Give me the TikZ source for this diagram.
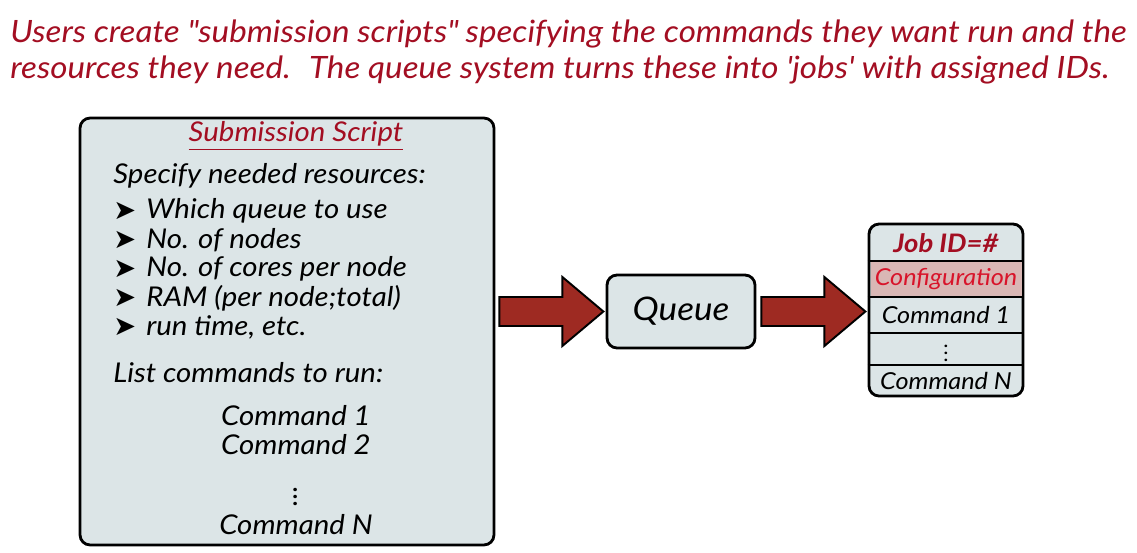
\documentclass[tikz,border=0pt]{standalone}
\usepackage{fontspec}
\setmainfont{Lato}[FakeStretch=1.08]
\newfontfamily\dingfont{DejaVu Sans}
\usetikzlibrary{calc,positioning}
\definecolor{titlered}{HTML}{A30E22}
\definecolor{confred}{HTML}{D8142A}
\definecolor{boxgrey}{HTML}{DCE5E7}
\definecolor{arrowred}{HTML}{9E2A22}
\definecolor{confpink}{HTML}{D9B7B5}
\newcommand{\itembullet}{{\dingfont\char"27A4}}
% block arrow whose tail sits just right of #1, heading right
\newcommand{\fatarrow}[1]{%
  \draw[fat] ($(#1)+(0,-14.5)$) -- ++(63,0) -- ++(0,-20) -- ++(41,34.5)
    -- ++(-41,34.5) -- ++(0,-20) -- ++(-63,0) -- cycle;}

\begin{document}
\begin{tikzpicture}[x=0.02cm, y=-0.02cm, line join=round,
    every node/.style={font=\itshape\fontsize{15.5}{17}\selectfont, inner sep=1pt},
    title/.style={anchor=west, align=left, inner sep=0pt, text=titlered,
      font=\itshape\fontsize{17.5}{20.5}\selectfont},
    panel/.style={draw, line width=1.6pt, rounded corners=0.2cm, fill=boxgrey, inner sep=0pt},
    item/.style={anchor=west, inner sep=0pt},
    fat/.style={draw, line width=1.1pt, fill=arrowred, line join=miter},
    row/.style={font=\itshape\fontsize{13.3}{15}\selectfont}]
  \useasboundingbox (0,0) rectangle (1137,552);

  % heading
  \node[title] (intro) at (10,52) {Users create \textquotedbl submission scripts\textquotedbl{} specifying the commands they want run and the\\
    resources they need.~ The queue system turns these into \textquotesingle jobs\textquotesingle{} with assigned IDs.};

  % submission script
  \node[panel, minimum width=8.28cm, minimum height=8.54cm] (script) at (287,331.5) {};
  \node (head) at (296,136) {\textcolor{titlered}{\underline{Submission Script}}};
  \node[item] (need) at (113,176) {Specify needed resources:};
  \foreach \t [count=\i] in {Which queue to use, No. of nodes, No. of cores per node,
      RAM (per node;total), {run time, etc.}} {
    \node[item] (bul\i) at (113,182+29*\i) {\itembullet};
    \node[item] (res\i) at (146,182+29*\i) {\t};
  }
  \node[item] (list) at (113,373) {List commands to run:};
  \node (cmdA) at (296,416) {Command 1};
  \node (cmdB) at (296,445) {Command 2};
  \node[inner sep=0pt] (cmddots) at (296,492) {$\vdots$};
  \node (cmdN) at (296,525) {Command N};

  % queue
  \node[panel, minimum width=2.96cm, minimum height=1.46cm, font=\itshape\fontsize{18.5}{20}\selectfont] (queue) at (681,311.5) {Queue};

  % job
  \node[panel, minimum width=3.08cm, minimum height=3.44cm, fill=boxgrey] (job) at (946,310) {};
  \fill[confpink] (871,261) rectangle (1022,297);
  \foreach \y in {261,297,333,365}
    \draw[line width=1.3pt] (job.west |- 0,\y) -- (job.east |- 0,\y);
  \node[row, text=titlered, font=\bfseries\itshape\fontsize{14.5}{16}\selectfont] (jobid) at (946,243) {Job ID=\#};
  \node[row, text=confred] (conf) at (946,279) {Configuration};
  \node[row] (jobcmdA) at (946,315) {Command 1};
  \node[row, inner sep=0pt, font=\fontsize{11.5}{13}\selectfont] (jobdots) at (946,348) {$\vdots$};
  \node[row] (jobcmdN) at (946,381) {Command N};

  % arrows
  \coordinate (qin) at ($(script.east |- queue.west)+(4,0)$);
  \coordinate (jin) at ($(queue.east)+(5,0)$);
  \fatarrow{qin}
  \fatarrow{jin}
\end{tikzpicture}
\end{document}
